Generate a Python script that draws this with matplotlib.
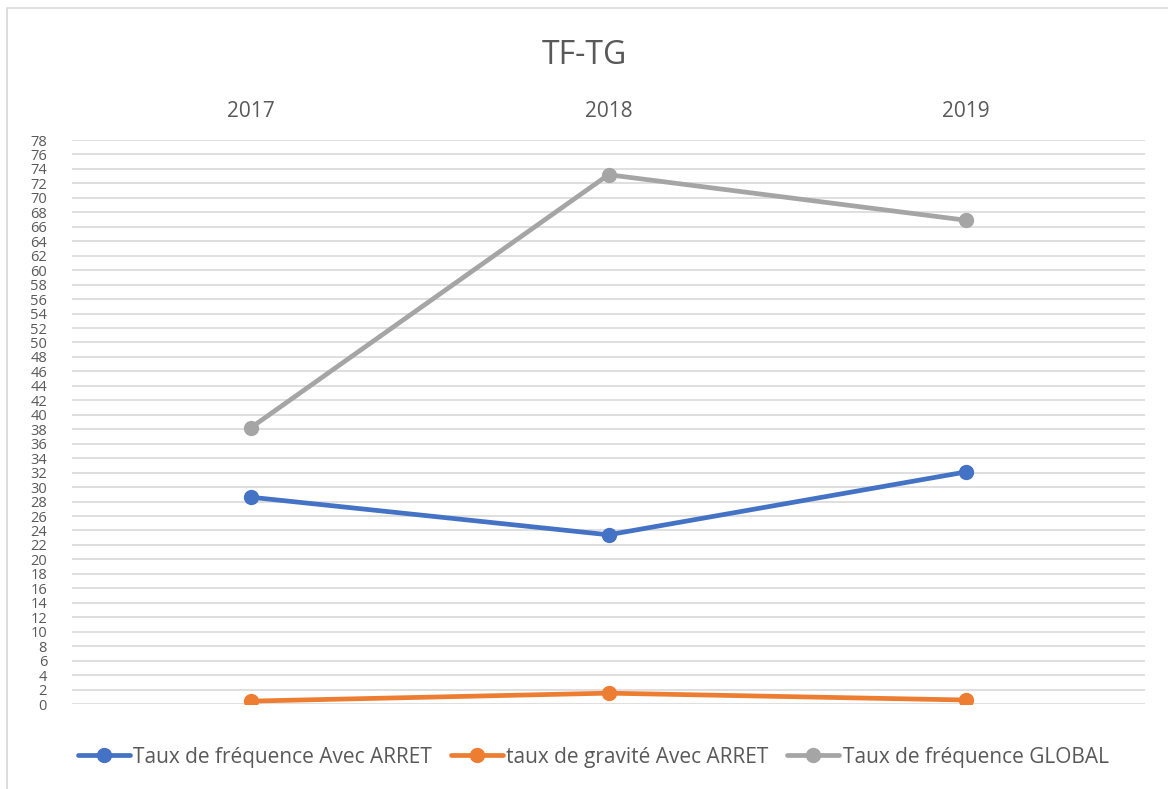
import matplotlib.pyplot as plt
from matplotlib.patches import Rectangle

# data
years = ["2017", "2018", "2019"]
tf_arret = [28.6, 23.4, 32.1]
tg_arret = [0.4, 1.5, 0.55]
tf_global = [38.2, 73.2, 66.9]

series = [
    ("Taux de fréquence Avec ARRET", tf_arret, "#4472C4"),
    ("taux de gravité Avec ARRET", tg_arret, "#ED7D31"),
    ("Taux de fréquence GLOBAL", tf_global, "#A5A5A5"),
]

plt.rcParams['font.family'] = ['Open Sans', 'DejaVu Sans']
text_color = "#595959"

W, H = 1168, 789
fig = plt.figure(figsize=(W / 100, H / 100), dpi=100)

# light border around the chart area
fig.patches.append(Rectangle((7 / W, -0.05), 1.2, 1 - 8 / H + 0.05,
                             transform=fig.transFigure, fill=False,
                             edgecolor="#D9D9D9", linewidth=1.2))

ax = fig.add_axes([72 / W, 1 - 704 / H, (1145 - 72) / W, (704 - 140) / H])

x = list(range(len(years)))
for label, vals, color in series:
    ax.plot(x, vals, color=color, linewidth=3.4, marker="o", markersize=10,
            label=label, solid_capstyle="round", zorder=3)

ax.set_xlim(-0.5, len(years) - 0.5)
ax.set_ylim(0, 78)
ax.set_yticks(range(0, 79, 2))
ax.set_yticklabels([str(v) for v in range(0, 79, 2)], fontsize=10.5,
                   color=text_color)
ax.grid(axis="y", color="#D9D9D9", linewidth=1.2, zorder=0)
ax.set_axisbelow(True)

ax.xaxis.tick_top()
ax.set_xticks(x)
ax.set_xticklabels(years, fontsize=15, color=text_color)
ax.tick_params(axis="x", length=0, pad=13)
ax.tick_params(axis="y", length=0, pad=18)

for side in ["top", "right", "left", "bottom"]:
    ax.spines[side].set_visible(False)

fig.text(0.5, 1 - 56 / H, "TF-TG", ha="center", va="center",
         fontsize=23, color=text_color)

fig.legend(loc="center", bbox_to_anchor=(0.508, 1 - 757 / H), ncol=3,
           frameon=False, fontsize=15, handlelength=2.5,
           handletextpad=0.15, columnspacing=0.9,
           labelcolor=text_color)

fig.savefig("out.png", dpi=100)
